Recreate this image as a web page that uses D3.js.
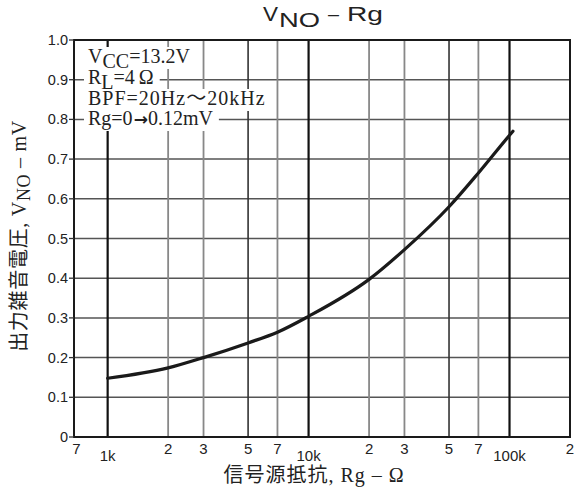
<!DOCTYPE html>
<html><head><meta charset="utf-8">
<script src="https://cdn.jsdelivr.net/npm/d3@7"></script>
<style>body{margin:0;background:#fff}</style>
</head><body>
<svg id="c" width="579" height="492"></svg>
<script>
// ---- data ----
const rg  = [1000, 2000, 3000, 5000, 7000, 10000, 20000, 30000, 50000, 70000, 100000, 104000];
const vno = [0.148, 0.174, 0.200, 0.237, 0.264, 0.304, 0.397, 0.472, 0.580, 0.665, 0.760, 0.770];
const yTicks = [0, 0.1, 0.2, 0.3, 0.4, 0.5, 0.6, 0.7, 0.8, 0.9, 1.0];
const yTickLabels = ["0", "0.1", "0.2", "0.3", "0.4", "0.5", "0.6", "0.7", "0.8", "0.9", "1.0"];
const xGrid = [1000, 2000, 3000, 5000, 7000, 10000, 20000, 30000, 50000, 70000, 100000];
const xTickVals = [700, 1000, 2000, 3000, 5000, 7000, 10000, 20000, 30000, 50000, 70000, 100000, 200000];
const xTickLabels = ["7", "1k", "2", "3", "5", "7", "10k", "2", "3", "5", "7", "100k", "2"];
const legendLines = [
  [["V", 0], ["CC", 1], ["=13.2V", 0]],
  [["R", 0], ["L", 1], ["=4\u2009Ω", 0]],
  [["BPF=20Hz〜20kHz", 0]],
  [["Rg=0", 0], ["→", 2], ["0.12mV", 0]]
];

// ---- layout ----
const L = 74, R = 570, T = 40, B = 437;
const svg = d3.select("#c");
const x = d3.scaleLog().domain([680, 200000]).range([L, R]);
const y = d3.scaleLinear().domain([0, 1]).range([B, T]);
const sans = "'Liberation Sans', Arial, Helvetica, sans-serif";
const serif = "'Liberation Serif', 'Times New Roman', 'Noto Sans CJK JP', serif";

// horizontal grid
svg.append("g").selectAll("line").data(yTicks.filter(v => v > 0 && v < 1)).join("line")
  .attr("x1", L).attr("x2", R).attr("y1", d => y(d)).attr("y2", d => y(d))
  .attr("stroke", "#555").attr("stroke-width", 1.5);

// vertical grid
function vstyle(d) {
  const m = Math.round(d / Math.pow(10, Math.floor(Math.log10(d))));
  if (m === 1) return ["#111", 2.2];
  if (m === 5) return ["#333", 1.6];
  return ["#888", 1.8];
}
svg.append("g").selectAll("line").data(xGrid).join("line")
  .attr("x1", d => x(d)).attr("x2", d => x(d)).attr("y1", T).attr("y2", B)
  .attr("stroke", d => vstyle(d)[0]).attr("stroke-width", d => vstyle(d)[1]);

// legend block: one text element, one line per group of tspans, white backing per line
const lg = svg.append("g");
const bgLayer = lg.append("g");
const lgBase = [63, 84, 105, 125];
const lt = lg.append("text").attr("font-family", serif).attr("font-size", 20).attr("fill", "#222");
let charIdx = 0;
const lineRanges = [];
legendLines.forEach((parts, i) => {
  const start = charIdx;
  let shifted = false;
  parts.forEach(([s, kind], j) => {
    const ts = lt.append("tspan").text(s);
    if (j === 0) ts.attr("x", 88).attr("y", lgBase[i]);
    if (kind === 1 && !shifted) { ts.attr("dy", 5); shifted = true; }
    else if (kind !== 1 && shifted) { ts.attr("dy", -5); shifted = false; }
    if (kind === 2) ts.attr("font-family", "'DejaVu Sans', sans-serif").attr("font-size", 17).attr("font-weight", "bold").attr("dx", 1);
    if (i === 2) ts.attr("letter-spacing", 1);
    charIdx += s.length;
  });
  lineRanges.push([start, charIdx - 1, lgBase[i]]);
});
const ln = lt.node();
lineRanges.forEach(([a, b, base]) => {
  let x0 = Infinity, x1 = -Infinity;
  for (let k = a; k <= b; k++) {
    const e = ln.getExtentOfChar(k);
    x0 = Math.min(x0, e.x); x1 = Math.max(x1, e.x + e.width);
  }
  bgLayer.append("rect").attr("x", x0 - 4).attr("y", base - 16)
    .attr("width", x1 - x0 + 10).attr("height", 22).attr("fill", "#fff");
});

// curve
const pts = rg.map((r, i) => [r, vno[i]]);
svg.append("path").datum(pts)
  .attr("d", d3.line().x(d => x(d[0])).y(d => y(d[1])).curve(d3.curveMonotoneX))
  .attr("fill", "none").attr("stroke", "#1a1a1a").attr("stroke-width", 3.2).attr("stroke-linecap", "round");

// frame
svg.append("rect").attr("x", L).attr("y", T).attr("width", R - L).attr("height", B - T)
  .attr("fill", "none").attr("stroke", "#1a1a1a").attr("stroke-width", 2);

// y ticks
const yax = svg.append("g");
yax.selectAll("line").data(yTicks).join("line")
  .attr("x1", L - 5).attr("x2", L).attr("y1", d => y(d)).attr("y2", d => y(d))
  .attr("stroke", "#333").attr("stroke-width", 1.3);
yax.selectAll("text").data(yTicks).join("text")
  .attr("x", 68).attr("y", d => y(d)).attr("dy", "0.35em")
  .attr("text-anchor", "end").attr("font-family", sans).attr("font-size", 14.5).attr("fill", "#222")
  .text((d, i) => yTickLabels[i]);

// x tick labels
svg.append("g").selectAll("text").data(xTickVals).join("text")
  .attr("x", d => x(d)).attr("y", (d, i) => xTickLabels[i].includes("k") ? 461 : 454)
  .attr("text-anchor", "middle").attr("font-family", sans).attr("font-size", 15).attr("fill", "#222")
  .text((d, i) => xTickLabels[i]);

// title (stretched sans, as in the reference)
const titleParts = [["V", 263, 21, 15], ["NO", 279, 27, 41], ["–", 328, 21, 11], ["Rg", 347, 21, 36]];
svg.append("g").selectAll("text").data(titleParts).join("text")
  .attr("x", d => d[1]).attr("y", d => d[2])
  .attr("textLength", d => d[3]).attr("lengthAdjust", "spacingAndGlyphs")
  .attr("font-family", sans).attr("font-size", 20).attr("fill", "#222")
  .text(d => d[0]);

// x title
svg.append("text").attr("x", 314).attr("y", 482).attr("text-anchor", "middle")
  .attr("font-family", serif).attr("font-size", 20).attr("letter-spacing", 1).attr("fill", "#222")
  .text("信号源抵抗, Rg – Ω");

// y title
const yt = svg.append("text").attr("transform", "translate(26,236) rotate(-90)")
  .attr("text-anchor", "middle").attr("font-family", serif).attr("font-size", 20)
  .attr("letter-spacing", 0.7).attr("fill", "#222");
yt.append("tspan").text("出力雑音電圧, V");
yt.append("tspan").attr("dy", 4).attr("font-size", 18).text("NO");
yt.append("tspan").attr("dy", -4).text(" – mV");
</script>
</body></html>
